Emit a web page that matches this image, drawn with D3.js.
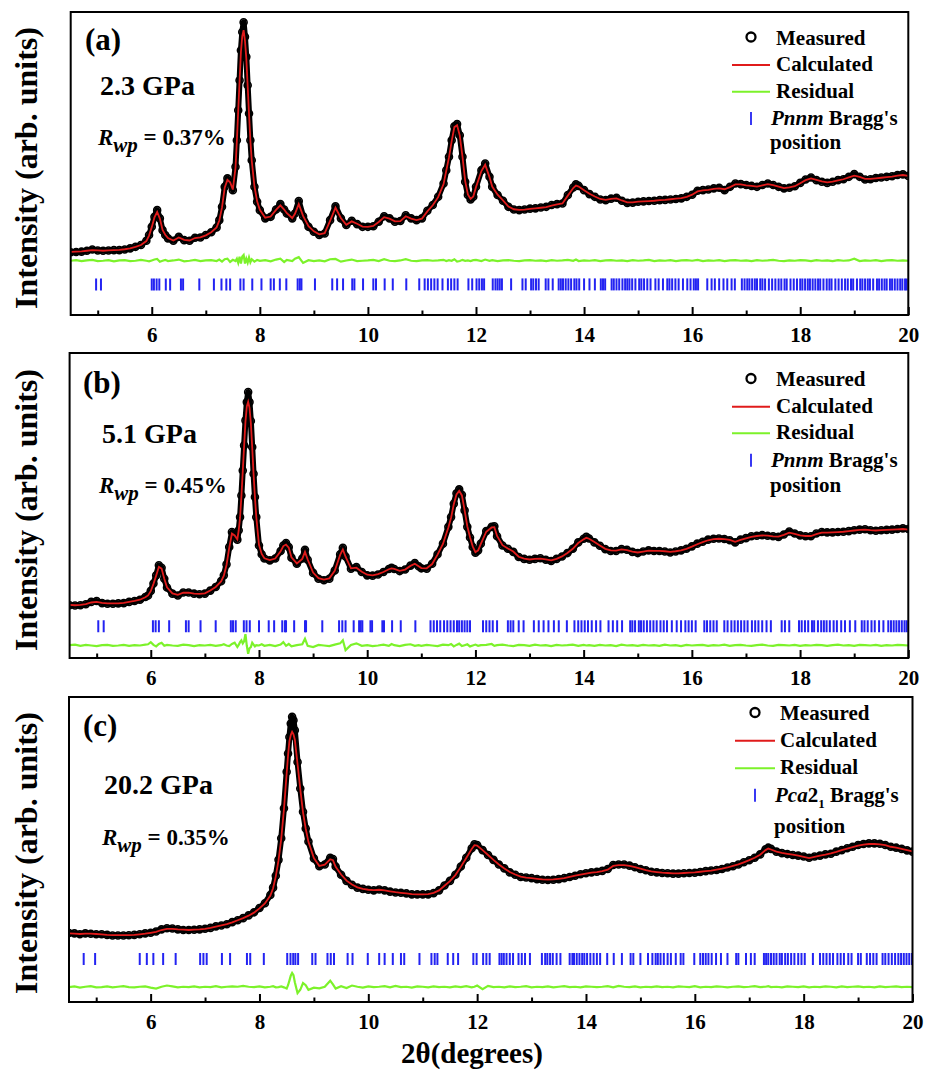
<!DOCTYPE html>
<html>
<head>
<meta charset="utf-8">
<script src="https://cdn.jsdelivr.net/npm/d3@7"></script>
<style>
  body { margin: 0; background: #fff; }
  text { font-family: "Liberation Serif", "Times New Roman", serif; font-weight: bold; fill: #000; }
</style>
</head>
<body>
<div id="chart"></div>
<script>
// ---- data (intensity in arb. units, 0 = frame bottom, 100 = frame top) ----

const twoThetaA = [
  4.5, 4.6, 4.7, 4.8, 4.9, 5.0, 5.1, 5.2, 5.3, 5.4,
  5.5, 5.6, 5.7, 5.8, 5.9, 5.95, 6.0, 6.05, 6.1, 6.15,
  6.2, 6.25, 6.3, 6.4, 6.5, 6.6, 6.7, 6.8, 6.9, 7.0,
  7.1, 7.2, 7.25, 7.3, 7.35, 7.4, 7.45, 7.5, 7.55, 7.575,
  7.6, 7.625, 7.65, 7.675, 7.7, 7.725, 7.75, 7.775, 7.8, 7.825,
  7.85, 7.9, 7.95, 8.0, 8.1, 8.2, 8.3, 8.38, 8.45, 8.5,
  8.6, 8.65, 8.72, 8.8, 8.9, 9.0, 9.1, 9.2, 9.3, 9.4,
  9.5, 9.6, 9.7, 9.8, 9.9, 10.0, 10.1, 10.2, 10.3, 10.4,
  10.5, 10.6, 10.7, 10.8, 10.9, 11.0, 11.1, 11.2, 11.3, 11.4,
  11.45, 11.5, 11.55, 11.6, 11.65, 11.7, 11.75, 11.8, 11.85, 11.9,
  11.95, 12.0, 12.1, 12.17, 12.25, 12.3, 12.4, 12.5, 12.6, 12.7,
  12.8, 12.9, 13.0, 13.1, 13.2, 13.3, 13.4, 13.5, 13.6, 13.7,
  13.8, 13.85, 13.9, 14.0, 14.1, 14.2, 14.3, 14.4, 14.5, 14.6,
  14.7, 14.8, 14.9, 15.0, 15.1, 15.2, 15.3, 15.4, 15.5, 15.6,
  15.7, 15.8, 15.9, 16.0, 16.1, 16.2, 16.3, 16.4, 16.5, 16.6,
  16.7, 16.8, 16.9, 17.0, 17.1, 17.2, 17.3, 17.4, 17.5, 17.6,
  17.7, 17.8, 17.9, 18.0, 18.1, 18.2, 18.3, 18.4, 18.5, 18.6,
  18.7, 18.8, 18.9, 19.0, 19.1, 19.2, 19.3, 19.4, 19.5, 19.6,
  19.7, 19.8, 19.9, 20.0
];
const measuredA = [
  20.7, 20.8, 20.9, 21.2, 21.6, 21.3, 21.2, 21.3, 21.4, 21.4,
  21.6, 22.0, 22.5, 23.1, 24.5, 26.4, 29.1, 32.4, 34.6, 31.9,
  28.0, 26.4, 25.3, 24.5, 25.8, 24.7, 24.5, 25.5, 25.6, 26.4,
  27.3, 28.9, 31.3, 35.7, 42.3, 45.1, 44.0, 41.2, 48.9, 57.7,
  67.6, 77.5, 87.4, 93.4, 96.6, 91.8, 85.2, 75.8, 66.5, 57.7,
  51.1, 42.3, 37.4, 34.6, 31.9, 32.4, 34.8, 36.6, 34.8, 33.5,
  31.9, 33.5, 37.6, 32.6, 29.1, 27.5, 26.4, 26.9, 31.3, 35.9,
  31.9, 29.7, 31.1, 30.0, 29.1, 29.1, 29.3, 30.8, 32.6, 31.9,
  30.8, 31.0, 32.9, 31.9, 31.3, 31.9, 34.4, 36.3, 39.0, 43.4,
  47.8, 52.2, 57.7, 62.3, 63.0, 59.3, 52.2, 44.0, 39.6, 38.1,
  39.0, 42.3, 47.8, 50.0, 45.6, 42.3, 39.6, 37.7, 35.7, 34.8,
  34.6, 34.8, 35.1, 35.2, 35.5, 35.7, 36.3, 36.6, 36.8, 39.6,
  42.1, 43.1, 42.6, 41.2, 39.9, 39.0, 38.1, 37.9, 38.4, 38.7,
  37.7, 37.0, 37.1, 37.4, 37.5, 37.6, 37.7, 37.9, 38.0, 38.1,
  38.3, 38.5, 39.0, 39.7, 41.0, 41.2, 41.4, 41.8, 42.0, 41.2,
  42.3, 43.4, 43.2, 42.9, 42.6, 42.3, 42.9, 43.4, 42.9, 42.3,
  41.8, 42.0, 42.5, 43.6, 44.7, 45.4, 44.5, 44.0, 43.6, 44.0,
  44.5, 44.8, 45.6, 46.5, 45.6, 44.7, 44.8, 45.2, 45.4, 45.6,
  45.8, 46.2, 46.4, 45.9
];
const calculatedA = [
  20.8, 20.9, 21.0, 21.2, 21.4, 21.3, 21.2, 21.3, 21.4, 21.5,
  21.7, 22.0, 22.5, 23.1, 24.4, 26.2, 29.0, 32.2, 34.0, 31.8,
  28.1, 26.5, 25.4, 24.6, 25.6, 24.8, 24.6, 25.4, 25.6, 26.3,
  27.3, 28.9, 31.2, 35.5, 42.0, 44.6, 43.8, 41.4, 48.6, 57.5,
  67.4, 77.2, 86.8, 92.0, 94.0, 90.5, 84.6, 75.5, 66.3, 57.6,
  51.0, 42.5, 37.5, 34.7, 32.1, 32.5, 34.7, 36.2, 34.8, 33.6,
  32.0, 33.4, 36.6, 32.7, 29.3, 27.6, 26.6, 27.0, 31.1, 35.4,
  32.0, 29.8, 30.9, 30.1, 29.2, 29.1, 29.4, 30.7, 32.3, 31.8,
  30.9, 31.0, 32.6, 31.8, 31.3, 31.8, 34.2, 36.2, 38.9, 43.2,
  47.6, 52.0, 57.4, 62.0, 62.6, 59.2, 52.3, 44.2, 39.8, 38.3,
  39.1, 42.2, 47.5, 49.6, 45.5, 42.4, 39.7, 37.8, 35.8, 34.9,
  34.7, 34.8, 35.0, 35.2, 35.4, 35.6, 36.1, 36.5, 36.8, 39.4,
  41.9, 42.7, 42.4, 41.2, 40.0, 39.1, 38.3, 38.0, 38.3, 38.5,
  37.8, 37.2, 37.2, 37.4, 37.5, 37.6, 37.7, 37.9, 38.0, 38.2,
  38.4, 38.6, 39.0, 39.7, 40.8, 41.1, 41.3, 41.6, 41.8, 41.5,
  42.2, 43.1, 43.1, 42.8, 42.6, 42.4, 42.8, 43.2, 42.9, 42.4,
  41.9, 42.1, 42.5, 43.5, 44.5, 45.1, 44.6, 44.1, 43.8, 44.0,
  44.4, 44.8, 45.4, 46.0, 45.6, 44.9, 44.9, 45.1, 45.3, 45.5,
  45.7, 46.0, 46.2, 45.9
];
const residualA = [
  17.9, 18.1, 17.8, 18.0, 18.2, 17.8, 17.9, 18.1, 17.7, 18.0,
  18.1, 17.8, 17.9, 18.2, 17.9, 17.7, 18.0, 18.3, 18.5, 17.6,
  17.9, 18.2, 17.8, 18.0, 18.3, 17.7, 17.9, 18.2, 17.8, 18.0,
  18.1, 17.8, 18.3, 17.6, 18.4, 18.6, 17.5, 18.2, 17.8, 18.6,
  17.2, 19.2, 17.0, 19.3, 19.8, 17.0, 18.6, 17.3, 19.0, 17.4,
  18.4, 17.6, 18.2, 17.9, 18.1, 17.7, 18.3, 18.6, 17.5, 18.2,
  17.8, 18.6, 19.1, 17.2, 18.1, 17.8, 18.0, 17.7, 18.4, 18.5,
  17.6, 18.0, 18.3, 17.8, 17.9, 18.0, 18.2, 17.8, 18.4, 17.9,
  17.8, 18.0, 18.4, 17.9, 17.8, 18.0, 18.1, 17.9, 18.0, 18.2,
  17.8, 18.1, 17.9, 18.4, 17.6, 17.8, 18.2, 17.9, 18.0, 17.8,
  18.1, 18.2, 17.8, 18.3, 17.9, 18.1, 17.8, 18.0, 18.1, 17.9,
  17.8, 18.0, 18.1, 17.9, 18.0, 17.8, 18.1, 17.9, 18.0, 18.2,
  17.9, 18.3, 17.8, 18.0, 17.9, 18.1, 17.8, 18.0, 18.1, 17.9,
  18.0, 17.8, 18.1, 17.9, 18.0, 18.2, 17.8, 18.0, 17.9, 18.1,
  17.8, 18.0, 18.1, 17.9, 18.2, 17.8, 18.0, 17.9, 18.1, 17.8,
  18.0, 18.1, 17.9, 18.0, 17.8, 18.1, 17.9, 18.0, 18.2, 17.9,
  17.8, 18.0, 17.9, 18.1, 18.0, 17.8, 18.1, 17.9, 18.0, 17.8,
  18.1, 17.9, 18.0, 18.6, 17.8, 18.0, 17.9, 18.1, 17.8, 18.0,
  18.1, 17.9, 18.0, 17.9
];
const braggA = [
  4.97, 5.06, 6.0, 6.04, 6.09, 6.14, 6.26, 6.34, 6.54, 6.58, 6.88, 7.15, 7.29, 7.38, 7.45,
  7.64, 7.70, 7.86, 8.03, 8.20, 8.26, 8.37, 8.49, 8.70, 8.74, 8.77, 9.02, 9.34, 9.43, 9.54,
  9.71, 9.75, 9.91, 10.10, 10.15, 10.31, 10.46, 10.71, 10.95, 11.05, 11.11, 11.17, 11.23,
  11.29, 11.38, 11.48, 11.54, 11.60, 11.66, 11.86, 11.93, 12.01, 12.06, 12.11, 12.15, 12.31,
  12.36, 12.40, 12.44, 12.48, 12.65, 12.86, 12.92, 13.02, 13.06, 13.11, 13.16, 13.29, 13.34,
  13.42, 13.53, 13.57, 13.61, 13.66, 13.71, 13.76, 13.82, 13.86, 13.91, 14.00, 14.10, 14.20,
  14.31, 14.35, 14.39, 14.51, 14.55, 14.60, 14.65, 14.71, 14.76, 14.80, 14.84, 14.89, 14.95,
  15.02, 15.06, 15.11, 15.17, 15.23, 15.32, 15.38, 15.46, 15.54, 15.58, 15.63, 15.69, 15.75,
  15.83, 15.91, 15.97, 16.03, 16.07, 16.11, 16.28, 16.36, 16.42, 16.50, 16.58, 16.65, 16.73,
  16.79, 16.92, 16.97, 17.02, 17.06, 17.11, 17.16, 17.20, 17.26, 17.30, 17.35, 17.42, 17.48,
  17.54, 17.60, 17.65, 17.71, 17.75, 17.82, 17.88, 17.94, 18.00, 18.04, 18.09, 18.14, 18.18,
  18.23, 18.28, 18.33, 18.37, 18.43, 18.49, 18.54, 18.58, 18.65, 18.71, 18.77, 18.83, 18.88,
  18.94, 18.98, 19.05, 19.11, 19.15, 19.20, 19.25, 19.29, 19.35, 19.42, 19.46, 19.51, 19.56,
  19.60, 19.66, 19.70, 19.75, 19.80, 19.85, 19.89, 19.94, 19.97
];

const twoThetaB = [
  4.5, 4.6, 4.7, 4.8, 4.9, 5.0, 5.1, 5.2, 5.3, 5.4,
  5.5, 5.6, 5.7, 5.8, 5.9, 5.95, 6.0, 6.05, 6.1, 6.15,
  6.2, 6.25, 6.3, 6.4, 6.5, 6.6, 6.7, 6.8, 6.9, 7.0,
  7.1, 7.2, 7.3, 7.35, 7.4, 7.45, 7.5, 7.55, 7.6, 7.625,
  7.65, 7.675, 7.7, 7.725, 7.75, 7.775, 7.8, 7.825, 7.85, 7.875,
  7.9, 7.925, 7.95, 8.0, 8.05, 8.1, 8.2, 8.3, 8.4, 8.45,
  8.5, 8.55, 8.6, 8.7, 8.8, 8.85, 8.9, 9.0, 9.1, 9.2,
  9.3, 9.4, 9.5, 9.55, 9.6, 9.7, 9.8, 9.9, 10.0, 10.1,
  10.2, 10.3, 10.4, 10.45, 10.5, 10.6, 10.7, 10.8, 10.88, 10.95,
  11.0, 11.1, 11.2, 11.3, 11.4, 11.5, 11.55, 11.6, 11.65, 11.7,
  11.75, 11.8, 11.85, 11.9, 11.95, 12.0, 12.05, 12.1, 12.2, 12.3,
  12.35, 12.4, 12.5, 12.6, 12.7, 12.8, 12.9, 13.0, 13.1, 13.2,
  13.3, 13.4, 13.5, 13.6, 13.7, 13.8, 13.9, 14.0, 14.05, 14.1,
  14.2, 14.3, 14.4, 14.5, 14.6, 14.7, 14.8, 14.9, 15.0, 15.1,
  15.2, 15.3, 15.4, 15.5, 15.6, 15.7, 15.8, 15.9, 16.0, 16.1,
  16.2, 16.3, 16.4, 16.5, 16.6, 16.7, 16.8, 16.9, 17.0, 17.1,
  17.2, 17.3, 17.4, 17.5, 17.6, 17.7, 17.8, 17.9, 18.0, 18.1,
  18.2, 18.3, 18.4, 18.5, 18.6, 18.7, 18.8, 18.9, 19.0, 19.1,
  19.2, 19.3, 19.4, 19.5, 19.6, 19.7, 19.8, 19.9, 20.0
];
const measuredB = [
  17.3, 17.2, 17.3, 17.6, 18.4, 18.7, 18.0, 17.8, 17.8, 17.9,
  18.0, 18.4, 18.7, 19.1, 20.0, 20.5, 22.0, 24.4, 27.1, 30.4,
  29.6, 26.0, 23.1, 21.1, 20.5, 21.5, 21.5, 21.1, 20.9, 21.1,
  22.1, 23.3, 25.2, 27.1, 30.7, 36.4, 41.3, 40.5, 38.8, 41.9,
  46.2, 53.3, 61.5, 69.7, 77.9, 83.9, 87.2, 83.9, 77.7, 69.2,
  60.4, 52.8, 46.2, 36.9, 34.0, 32.6, 32.0, 32.6, 35.1, 36.9,
  37.7, 36.4, 32.9, 30.9, 32.6, 35.5, 32.2, 27.9, 26.0, 25.5,
  26.0, 28.7, 34.0, 36.1, 33.3, 29.3, 29.8, 28.2, 27.1, 27.0,
  27.4, 28.2, 29.2, 29.6, 29.2, 28.5, 29.0, 30.3, 31.1, 30.1,
  29.4, 29.3, 30.9, 34.0, 37.5, 43.0, 46.2, 50.6, 54.0, 55.3,
  53.5, 48.4, 43.0, 39.5, 36.4, 34.5, 35.3, 37.5, 41.6, 43.0,
  43.2, 39.9, 36.9, 35.8, 34.8, 33.1, 32.5, 32.2, 32.5, 32.7,
  32.2, 31.8, 32.5, 33.3, 34.4, 35.8, 37.9, 39.1, 39.7, 39.2,
  37.9, 36.8, 35.7, 35.1, 35.1, 35.7, 35.5, 34.8, 34.4, 34.9,
  35.3, 35.1, 35.1, 34.9, 34.6, 34.9, 35.3, 35.8, 36.6, 37.5,
  38.1, 38.8, 39.1, 39.2, 39.0, 38.6, 37.9, 38.8, 39.3, 39.9,
  40.1, 40.3, 40.1, 39.9, 39.7, 40.5, 41.5, 40.8, 40.2, 39.9,
  39.9, 40.8, 41.3, 41.2, 41.2, 41.3, 41.4, 41.6, 41.9, 42.1,
  42.2, 41.9, 41.7, 41.9, 42.0, 42.1, 42.3, 42.5, 42.3
];
const calculatedB = [
  17.4, 17.3, 17.4, 17.7, 18.2, 18.4, 18.1, 17.9, 17.9, 17.9,
  18.1, 18.4, 18.7, 19.1, 19.9, 20.5, 21.9, 24.3, 27.0, 29.9,
  29.3, 26.0, 23.2, 21.2, 20.7, 21.4, 21.4, 21.1, 21.0, 21.2,
  22.1, 23.3, 25.1, 27.0, 30.5, 36.1, 40.8, 40.2, 38.9, 41.8,
  46.0, 53.0, 61.2, 69.4, 77.4, 82.5, 84.0, 82.0, 77.0, 69.0,
  60.3, 52.8, 46.3, 37.1, 34.1, 32.7, 32.1, 32.6, 35.0, 36.7,
  37.2, 36.2, 33.0, 31.0, 32.5, 34.8, 32.3, 28.0, 26.2, 25.7,
  26.1, 28.6, 33.8, 35.6, 33.2, 29.4, 29.6, 28.3, 27.3, 27.1,
  27.5, 28.2, 29.1, 29.4, 29.2, 28.6, 29.0, 30.2, 30.9, 30.1,
  29.5, 29.4, 30.8, 33.9, 37.4, 42.8, 46.0, 50.4, 53.6, 54.8,
  53.3, 48.5, 43.2, 39.6, 36.6, 34.7, 35.3, 37.4, 41.4, 42.8,
  42.9, 40.0, 37.0, 35.9, 34.9, 33.2, 32.6, 32.3, 32.5, 32.6,
  32.3, 32.0, 32.5, 33.3, 34.4, 35.8, 37.7, 38.9, 39.4, 39.1,
  38.0, 36.9, 35.8, 35.3, 35.2, 35.6, 35.4, 34.9, 34.6, 34.9,
  35.2, 35.1, 35.1, 35.0, 34.8, 35.0, 35.3, 35.8, 36.5, 37.3,
  38.0, 38.6, 39.0, 39.1, 39.0, 38.7, 38.1, 38.7, 39.2, 39.7,
  40.0, 40.2, 40.1, 39.9, 39.8, 40.4, 41.1, 40.7, 40.2, 40.0,
  40.0, 40.6, 41.1, 41.1, 41.2, 41.3, 41.4, 41.6, 41.8, 42.0,
  42.1, 41.9, 41.8, 41.9, 42.0, 42.1, 42.2, 42.3, 42.1
];
const residualB = [
  4.2, 4.4, 4.0, 4.3, 4.1, 3.9, 4.2, 4.3, 4.0, 4.1,
  4.3, 4.0, 4.2, 4.1, 4.4, 4.5, 5.2, 4.3, 3.8, 4.6,
  5.0, 4.0, 4.3, 4.1, 4.0, 4.4, 4.2, 3.9, 4.2, 4.1,
  4.3, 4.0, 4.2, 4.5, 4.1, 3.9, 4.6, 5.0, 3.6, 4.3,
  5.2, 5.8, 4.8, 5.5, 7.8, 4.0, 1.4, 3.2, 3.6, 5.0,
  4.4, 3.8, 4.2, 4.1, 4.5, 4.0, 4.3, 3.9, 4.4, 5.2,
  4.0, 4.6, 3.8, 4.2, 4.5, 6.3, 4.0, 3.6, 4.3, 4.1,
  3.9, 4.4, 4.8, 5.8, 2.6, 4.3, 4.8, 4.0, 4.2, 3.9,
  4.1, 4.4, 4.0, 4.6, 4.2, 3.9, 4.3, 4.5, 4.0, 4.2,
  4.0, 4.3, 4.1, 3.9, 4.4, 4.2, 4.6, 3.8, 4.3, 4.7,
  3.9, 4.2, 4.5, 3.8, 4.1, 4.4, 4.0, 4.2, 4.3, 4.6,
  4.0, 4.2, 4.4, 4.1, 3.9, 4.3, 4.2, 4.0, 4.4, 4.1,
  4.2, 3.9, 4.3, 4.1, 4.2, 4.4, 4.0, 4.3, 4.1, 4.2,
  4.0, 4.3, 4.1, 4.2, 3.9, 4.4, 4.1, 4.2, 4.0, 4.3,
  4.1, 4.2, 4.0, 4.4, 4.1, 4.2, 3.9, 4.3, 4.1, 4.2,
  4.3, 4.0, 4.2, 4.1, 4.4, 4.0, 4.2, 4.3, 4.1, 4.0,
  4.2, 4.4, 4.1, 4.0, 4.3, 4.2, 4.1, 4.3, 4.0, 4.2,
  4.1, 4.3, 4.2, 4.0, 4.2, 4.4, 4.1, 4.2, 4.0, 4.3,
  4.2, 4.1, 4.3, 4.0, 4.2, 4.1, 4.3, 4.2, 4.1
];
const braggB = [
  5.03, 5.13, 6.04, 6.09, 6.15, 6.34, 6.65, 6.70, 6.92, 7.20, 7.48, 7.52, 7.57, 7.72, 7.77,
  7.83, 8.00, 8.18, 8.28, 8.43, 8.48, 8.50, 8.65, 8.85, 8.87, 9.17, 9.48, 9.54, 9.60, 9.75,
  9.85, 9.88, 9.91, 10.06, 10.09, 10.28, 10.31, 10.46, 10.62, 10.89, 11.17, 11.23, 11.29,
  11.35, 11.42, 11.48, 11.54, 11.60, 11.66, 11.70, 11.75, 11.80, 11.85, 11.90, 12.14, 12.20,
  12.26, 12.32, 12.40, 12.60, 12.65, 12.70, 12.80, 12.89, 13.08, 13.17, 13.26, 13.35, 13.45,
  13.54, 13.69, 13.83, 13.90, 13.96, 14.02, 14.08, 14.15, 14.23, 14.31, 14.46, 14.54, 14.62,
  14.71, 14.86, 14.90, 14.95, 15.02, 15.06, 15.11, 15.17, 15.23, 15.29, 15.35, 15.42, 15.48,
  15.54, 15.63, 15.72, 15.80, 15.88, 15.94, 16.00, 16.07, 16.23, 16.28, 16.34, 16.40, 16.46,
  16.60, 16.66, 16.73, 16.79, 16.85, 16.91, 16.97, 17.03, 17.11, 17.17, 17.23, 17.30, 17.38,
  17.46, 17.66, 17.72, 17.80, 17.98, 18.03, 18.09, 18.15, 18.22, 18.26, 18.33, 18.39, 18.44,
  18.49, 18.55, 18.62, 18.68, 18.76, 18.83, 18.92, 19.02, 19.14, 19.19, 19.25, 19.32, 19.38,
  19.46, 19.54, 19.63, 19.68, 19.73, 19.78, 19.83, 19.88, 19.93, 19.97
];

const twoThetaC = [
  4.5, 4.6, 4.7, 4.8, 4.9, 5.0, 5.1, 5.2, 5.3, 5.4,
  5.5, 5.6, 5.7, 5.8, 5.9, 6.0, 6.1, 6.2, 6.3, 6.4,
  6.5, 6.6, 6.7, 6.8, 6.9, 7.0, 7.1, 7.2, 7.3, 7.4,
  7.5, 7.6, 7.7, 7.8, 7.9, 8.0, 8.1, 8.2, 8.25, 8.3,
  8.35, 8.4, 8.45, 8.5, 8.525, 8.55, 8.575, 8.6, 8.625, 8.65,
  8.7, 8.75, 8.8, 8.85, 8.9, 9.0, 9.1, 9.2, 9.3, 9.35,
  9.4, 9.5, 9.6, 9.7, 9.8, 9.9, 10.0, 10.1, 10.2, 10.3,
  10.4, 10.5, 10.6, 10.7, 10.8, 10.9, 11.0, 11.1, 11.2, 11.3,
  11.4, 11.5, 11.6, 11.7, 11.8, 11.9, 11.95, 12.0, 12.1, 12.2,
  12.3, 12.4, 12.5, 12.6, 12.7, 12.8, 12.9, 13.0, 13.1, 13.2,
  13.3, 13.4, 13.5, 13.6, 13.7, 13.8, 13.9, 14.0, 14.1, 14.2,
  14.3, 14.4, 14.5, 14.6, 14.7, 14.8, 14.9, 15.0, 15.1, 15.2,
  15.3, 15.4, 15.5, 15.6, 15.7, 15.8, 15.9, 16.0, 16.1, 16.2,
  16.3, 16.4, 16.5, 16.6, 16.7, 16.8, 16.9, 17.0, 17.1, 17.2,
  17.3, 17.35, 17.4, 17.5, 17.6, 17.7, 17.8, 17.9, 18.0, 18.1,
  18.2, 18.3, 18.4, 18.5, 18.6, 18.7, 18.8, 18.9, 19.0, 19.1,
  19.2, 19.3, 19.4, 19.5, 19.6, 19.7, 19.8, 19.9, 20.0
];
const measuredC = [
  22.6, 22.5, 22.2, 22.5, 22.4, 22.2, 22.2, 22.0, 21.8, 21.8,
  21.8, 21.9, 22.0, 22.2, 22.5, 22.7, 23.1, 23.8, 24.2, 24.1,
  23.8, 23.6, 23.6, 23.7, 23.8, 24.0, 24.3, 24.8, 25.1, 25.5,
  26.2, 26.8, 27.5, 28.4, 29.4, 30.8, 32.4, 35.1, 37.5, 41.4,
  46.6, 53.7, 63.5, 75.5, 81.5, 86.9, 91.3, 93.5, 92.4, 89.1,
  78.7, 70.0, 62.4, 56.9, 52.6, 47.1, 44.5, 45.1, 47.3, 46.9,
  44.4, 41.7, 39.7, 38.4, 37.5, 37.1, 36.8, 36.6, 36.9, 36.6,
  36.2, 35.9, 35.8, 35.6, 35.3, 35.3, 35.3, 35.3, 35.7, 36.6,
  38.2, 39.7, 41.7, 44.4, 47.3, 50.4, 51.7, 51.5, 49.8, 48.2,
  46.6, 45.1, 43.8, 42.5, 41.7, 41.0, 40.8, 40.6, 40.3, 40.1,
  40.0, 40.1, 40.3, 40.6, 41.0, 41.4, 41.9, 42.2, 42.5, 42.7,
  43.0, 43.6, 44.9, 45.1, 45.1, 44.7, 44.2, 43.6, 43.2, 42.7,
  42.5, 42.3, 42.2, 42.1, 42.1, 42.2, 42.3, 42.4, 42.6, 42.9,
  43.1, 43.3, 43.6, 44.1, 44.5, 45.1, 45.8, 46.5, 47.3, 48.4,
  50.1, 50.6, 50.2, 49.3, 48.8, 48.5, 48.2, 48.0, 47.7, 47.3,
  47.7, 48.0, 48.4, 48.6, 49.3, 49.8, 50.4, 50.9, 51.5, 51.8,
  52.0, 52.0, 51.9, 51.5, 50.9, 50.6, 50.2, 49.7, 49.3
];
const calculatedC = [
  22.5, 22.4, 22.3, 22.4, 22.4, 22.3, 22.2, 22.0, 21.9, 21.9,
  21.9, 21.9, 22.0, 22.2, 22.4, 22.7, 23.0, 23.6, 24.0, 24.0,
  23.8, 23.7, 23.6, 23.7, 23.8, 24.0, 24.3, 24.7, 25.1, 25.5,
  26.1, 26.8, 27.5, 28.3, 29.3, 30.7, 32.3, 34.9, 37.3, 41.2,
  46.4, 53.5, 63.2, 75.0, 80.8, 85.5, 87.5, 88.6, 87.8, 86.0,
  78.0, 69.8, 62.2, 56.8, 52.5, 47.2, 44.6, 45.0, 46.8, 46.5,
  44.3, 41.8, 39.8, 38.5, 37.6, 37.1, 36.8, 36.7, 36.8, 36.6,
  36.3, 36.0, 35.8, 35.6, 35.4, 35.3, 35.3, 35.4, 35.8, 36.6,
  38.1, 39.6, 41.6, 44.3, 47.2, 50.2, 51.4, 51.3, 49.8, 48.2,
  46.6, 45.1, 43.8, 42.6, 41.8, 41.1, 40.8, 40.6, 40.4, 40.2,
  40.1, 40.2, 40.4, 40.6, 41.0, 41.4, 41.8, 42.1, 42.4, 42.6,
  42.9, 43.4, 44.6, 44.9, 44.9, 44.6, 44.2, 43.7, 43.2, 42.8,
  42.6, 42.4, 42.3, 42.2, 42.2, 42.3, 42.4, 42.5, 42.7, 42.9,
  43.1, 43.4, 43.7, 44.1, 44.6, 45.1, 45.8, 46.5, 47.3, 48.3,
  49.8, 50.3, 50.0, 49.3, 48.9, 48.6, 48.3, 48.0, 47.6, 47.2,
  47.6, 48.0, 48.3, 48.7, 49.2, 49.8, 50.3, 50.8, 51.3, 51.6,
  51.8, 51.8, 51.7, 51.4, 50.9, 50.6, 50.2, 49.8, 49.4
];
const residualC = [
  4.9, 5.1, 4.7, 5.0, 5.2, 4.8, 4.9, 5.1, 4.8, 5.0,
  5.2, 4.9, 4.8, 5.0, 5.1, 4.7, 4.4, 5.0, 5.4, 5.1,
  4.8, 5.0, 4.9, 5.1, 4.8, 5.0, 4.9, 5.2, 4.8, 5.0,
  5.1, 5.0, 5.3, 5.0, 4.9, 5.1, 4.8, 5.0, 5.2, 4.8,
  4.9, 5.1, 4.8, 4.4, 5.5, 7.0, 8.6, 9.5, 8.8, 6.5,
  2.9, 4.0, 6.2, 5.5, 4.0, 4.7, 4.5, 5.0, 7.0, 5.8,
  4.4, 5.2, 4.6, 5.4, 5.0, 4.7, 5.1, 4.9, 5.0, 5.2,
  4.8, 5.3, 4.9, 5.0, 4.7, 5.1, 5.0, 4.8, 5.1, 4.9,
  5.0, 4.8, 5.1, 4.9, 5.2, 4.8, 5.0, 5.4, 4.2, 5.3,
  4.9, 5.0, 4.8, 5.1, 4.9, 5.0, 5.2, 4.8, 5.0, 4.9,
  5.1, 4.8, 5.0, 5.2, 4.9, 5.0, 4.8, 5.1, 5.0, 4.9,
  5.0, 5.2, 4.8, 5.3, 5.0, 4.9, 5.1, 4.8, 5.0, 4.9,
  5.1, 4.9, 5.0, 4.8, 5.1, 5.0, 4.9, 5.2, 4.8, 5.0,
  4.9, 5.1, 5.0, 4.8, 5.0, 5.1, 4.9, 5.0, 5.2, 4.9,
  5.0, 5.2, 4.9, 5.0, 4.8, 5.1, 5.0, 4.9, 5.1, 4.8,
  5.0, 4.9, 5.1, 5.0, 4.8, 5.1, 4.9, 5.0, 5.1, 4.9,
  5.0, 4.8, 5.1, 4.9, 5.0, 5.1, 4.9, 5.0, 4.9
];
const braggC = [
  4.77, 4.98, 5.80, 5.93, 6.05, 6.23, 6.46, 6.91, 6.97, 7.03, 7.31, 7.46, 7.77, 7.83, 8.08,
  8.51, 8.57, 8.62, 8.66, 8.71, 8.97, 9.03, 9.25, 9.31, 9.37, 9.62, 9.71, 9.99, 10.20, 10.30,
  10.45, 10.60, 10.66, 10.94, 11.16, 11.22, 11.27, 11.46, 11.56, 11.65, 11.93, 11.99, 12.11,
  12.17, 12.23, 12.41, 12.45, 12.49, 12.54, 12.60, 12.66, 12.76, 12.82, 12.88, 12.97, 13.19,
  13.25, 13.29, 13.34, 13.39, 13.46, 13.53, 13.70, 13.75, 13.78, 13.83, 13.88, 13.93, 13.97,
  14.02, 14.08, 14.14, 14.20, 14.26, 14.39, 14.51, 14.66, 14.82, 14.87, 15.00, 15.14, 15.22,
  15.28, 15.32, 15.37, 15.43, 15.50, 15.56, 15.65, 15.74, 15.79, 15.99, 16.10, 16.15, 16.20,
  16.25, 16.31, 16.39, 16.48, 16.60, 16.76, 16.80, 16.94, 17.03, 17.10, 17.27, 17.31, 17.35,
  17.40, 17.45, 17.50, 17.56, 17.60, 17.66, 17.71, 17.77, 17.83, 17.90, 17.96, 18.02, 18.17,
  18.30, 18.36, 18.42, 18.48, 18.54, 18.62, 18.68, 18.74, 18.82, 18.88, 19.00, 19.05, 19.16,
  19.22, 19.28, 19.34, 19.45, 19.50, 19.56, 19.62, 19.68, 19.74, 19.79, 19.84, 19.89, 19.94,
  19.99
];

// Bragg tick row level (same units as intensity)
const braggLevels = [10.1, 10.4, 14.1];

// labels
const panelTags = ["(a)", "(b)", "(c)"];
const pressures = ["2.3 GPa", "5.1 GPa", "20.2 GPa"];
const rwpValues = ["0.37%", "0.45%", "0.35%"];
const phases = ["Pnnm", "Pnnm", "Pca2"];
const legendNames = ["Measured", "Calculated", "Residual"];
const majorTicks = [6, 8, 10, 12, 14, 16, 18, 20];
const minorTicks = [5, 7, 9, 11, 13, 15, 17, 19];
const xDomain = [4.5, 20];

// ---- layout ----
const W = 925, H = 1072;
const colors = { measured: "#000", calc: "#e01b1b", resid: "#7cf22a", bragg: "#2323f2" };

const panels = [
  { x: twoThetaA, obs: measuredA, calc: calculatedA, res: residualA, bragg: braggA,
    box: { left: 70.7, right: 908.3, top: 12, bottom: 315 },
    tagPos: [85, 50], presPos: [100, 95], rwpPos: [98, 145],
    leg: { mx: 751, tx: 776, px: 771, l0: 732, l1: 770, rows: [32.5, 59, 85.8, 113, 136.5] },
    yTitle: 168 },
  { x: twoThetaB, obs: measuredB, calc: calculatedB, res: residualB, bragg: braggB,
    box: { left: 69.6, right: 908.3, top: 353, bottom: 658 },
    tagPos: [83, 393], presPos: [102, 442.5], rwpPos: [99, 492.5],
    leg: { mx: 751, tx: 776, px: 771, l0: 732, l1: 770, rows: [33, 59.7, 86.3, 113.7, 139.3] },
    yTitle: 510 },
  { x: twoThetaC, obs: measuredC, calc: calculatedC, res: residualC, bragg: braggC,
    box: { left: 69, right: 912.5, top: 697, bottom: 1002 },
    tagPos: [83, 736], presPos: [104, 794], rwpPos: [102, 845],
    leg: { mx: 755, tx: 780, px: 775, l0: 735, l1: 775, rows: [23, 49.7, 77.3, 104.7, 136.3] },
    yTitle: 853 }
];

const svg = d3.select("#chart").append("svg")
  .attr("width", W)
  .attr("height", H)
  .style("background", "#fff");

panels.forEach(function (p, i) {
  const b = p.box;
  const x = d3.scaleLinear().domain(xDomain).range([b.left, b.right]);
  const y = d3.scaleLinear().domain([0, 100]).range([b.bottom, b.top]);
  const g = svg.append("g");

  const n = Math.min(p.x.length, p.obs.length, p.calc.length, p.res.length);
  const rows = d3.range(n).map(k => ({ t: p.x[k], o: p.obs[k], c: p.calc[k], r: p.res[k] }));

  g.append("clipPath").attr("id", "clip" + i)
    .append("rect")
    .attr("x", b.left).attr("y", b.top)
    .attr("width", b.right - b.left).attr("height", b.bottom - b.top);

  const plot = g.append("g").attr("clip-path", "url(#clip" + i + ")");

  // residual
  plot.append("path")
    .datum(rows)
    .attr("fill", "none")
    .attr("stroke", colors.resid)
    .attr("stroke-width", 2.2)
    .attr("d", d3.line().x(d => x(d.t)).y(d => y(d.r)));

  // bragg positions
  plot.selectAll(".bragg")
    .data(p.bragg)
    .enter()
    .append("line")
    .attr("x1", d => x(d)).attr("x2", d => x(d))
    .attr("y1", y(braggLevels[i]) - 6).attr("y2", y(braggLevels[i]) + 6)
    .attr("stroke", colors.bragg)
    .attr("stroke-width", 2);

  // measured: dense band of open circles
  plot.append("path")
    .datum(rows)
    .attr("fill", "none")
    .attr("stroke", colors.measured)
    .attr("stroke-width", 6)
    .attr("stroke-linejoin", "round")
    .attr("d", d3.line().x(d => x(d.t)).y(d => y(d.o)));

  plot.selectAll(".obs")
    .data(rows)
    .enter()
    .append("circle")
    .attr("cx", d => x(d.t))
    .attr("cy", d => y(d.o))
    .attr("r", 3.5)
    .attr("fill", "none")
    .attr("stroke", colors.measured)
    .attr("stroke-width", 1.6);

  // calculated
  plot.append("path")
    .datum(rows)
    .attr("fill", "none")
    .attr("stroke", colors.calc)
    .attr("stroke-width", 1.8)
    .attr("d", d3.line().x(d => x(d.t)).y(d => y(d.c)));

  // axis ticks (inward)
  const gx = g.append("g")
    .attr("transform", "translate(0," + b.bottom + ")")
    .call(d3.axisBottom(x).tickValues(majorTicks).tickSizeInner(-8).tickSizeOuter(0)
      .tickPadding(12).tickFormat(d3.format("d")));
  gx.select(".domain").remove();
  gx.selectAll("line").attr("stroke", "#000").attr("stroke-width", 2);
  gx.selectAll("text")
    .style("font-family", "'Liberation Serif', 'Times New Roman', serif")
    .style("font-weight", "bold")
    .style("font-size", "21px")
    .attr("fill", "#000");

  const gm = g.append("g")
    .attr("transform", "translate(0," + b.bottom + ")")
    .call(d3.axisBottom(x).tickValues(minorTicks).tickSizeInner(-4.5).tickSizeOuter(0).tickFormat(""));
  gm.select(".domain").remove();
  gm.selectAll("line").attr("stroke", "#000").attr("stroke-width", 2);

  // frame
  g.append("rect")
    .attr("x", b.left).attr("y", b.top)
    .attr("width", b.right - b.left).attr("height", b.bottom - b.top)
    .attr("fill", "none")
    .attr("stroke", "#000")
    .attr("stroke-width", 2);

  // y title
  g.append("text")
    .attr("transform", "translate(37," + p.yTitle + ") rotate(-90)")
    .attr("text-anchor", "middle")
    .style("font-size", "32px")
    .text("Intensity (arb. units)");

  // panel tag, pressure, Rwp
  g.append("text").attr("x", p.tagPos[0]).attr("y", p.tagPos[1])
    .style("font-size", "31px").text(panelTags[i]);
  g.append("text").attr("x", p.presPos[0]).attr("y", p.presPos[1])
    .style("font-size", "28px").text(pressures[i]);
  const rw = g.append("text").attr("x", p.rwpPos[0]).attr("y", p.rwpPos[1]).style("font-size", "23px");
  rw.append("tspan").style("font-style", "italic").text("R");
  rw.append("tspan").style("font-style", "italic").style("font-size", "21px").attr("dy", 7).text("wp");
  rw.append("tspan").attr("dy", -7).text(" = " + rwpValues[i]);

  // legend
  const L = p.leg;
  const lg = g.append("g").style("font-size", "21px");
  lg.append("circle")
    .attr("cx", L.mx).attr("cy", b.top + L.rows[0] - 7.5)
    .attr("r", 4.5).attr("fill", "none")
    .attr("stroke", "#000").attr("stroke-width", 2.3);
  lg.append("line")
    .attr("x1", L.l0).attr("x2", L.l1)
    .attr("y1", b.top + L.rows[1] - 6).attr("y2", b.top + L.rows[1] - 6)
    .attr("stroke", colors.calc).attr("stroke-width", 2);
  lg.append("line")
    .attr("x1", L.l0).attr("x2", L.l1)
    .attr("y1", b.top + L.rows[2] - 6).attr("y2", b.top + L.rows[2] - 6)
    .attr("stroke", colors.resid).attr("stroke-width", 2);
  lg.append("line")
    .attr("x1", L.mx).attr("x2", L.mx)
    .attr("y1", b.top + L.rows[3] - 13).attr("y2", b.top + L.rows[3])
    .attr("stroke", colors.bragg).attr("stroke-width", 1.8);

  legendNames.forEach(function (name, k) {
    lg.append("text").attr("x", L.tx).attr("y", b.top + L.rows[k]).text(name);
  });
  const ph = lg.append("text").attr("x", L.px).attr("y", b.top + L.rows[3]);
  if (i === 2) {
    ph.append("tspan").style("font-style", "italic").text("Pca");
    ph.append("tspan").text("2");
    ph.append("tspan").style("font-size", "13px").attr("dy", 6).text("1");
    ph.append("tspan").attr("dy", -6).text(" Bragg's");
  } else {
    ph.append("tspan").style("font-style", "italic").text(phases[i]);
    ph.append("tspan").text(" Bragg's");
  }
  lg.append("text").attr("x", L.px - 1).attr("y", b.top + L.rows[4]).text("position");
});

// x title
svg.append("text")
  .attr("x", 472)
  .attr("y", 1063)
  .attr("text-anchor", "middle")
  .style("font-size", "29px")
  .text("2θ(degrees)");
</script>
</body>
</html>
